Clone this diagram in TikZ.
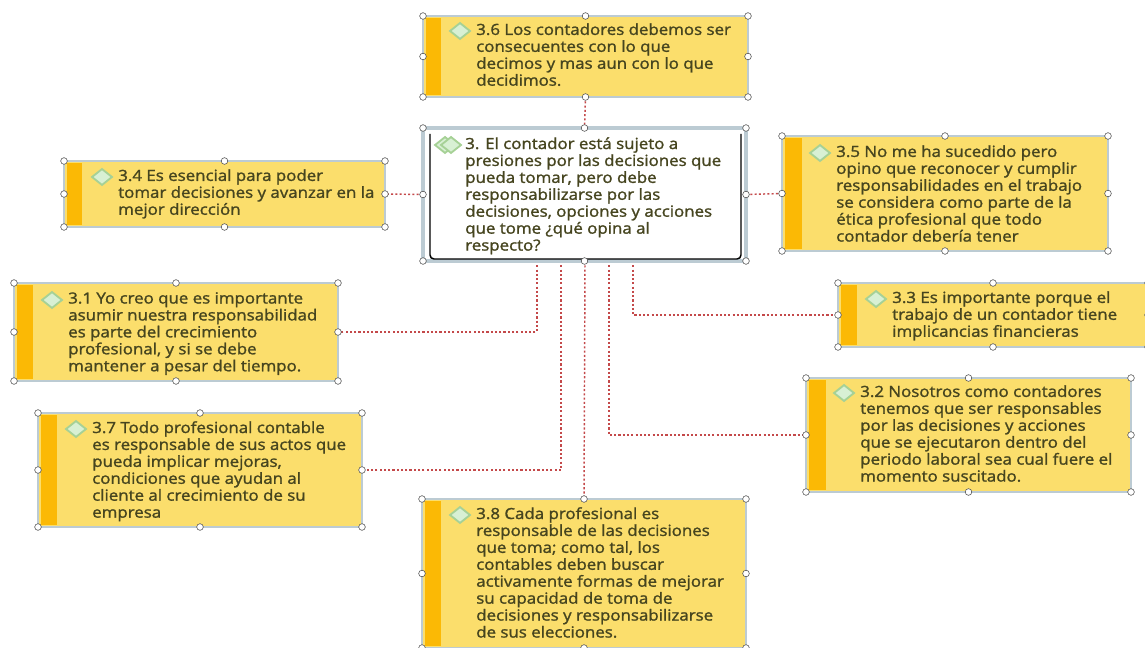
\documentclass[tikz,border=0pt]{standalone}
\usepackage{fontspec}
\setmainfont{Open Sans}[FakeBold=1.4,FakeStretch=1.1]
\pgfdeclarelayer{under}
\pgfsetlayers{under,main}
\definecolor{boxfill}{HTML}{FBDE6C}
\definecolor{barfill}{HTML}{FBB905}
\definecolor{boxedge}{HTML}{BCCBD3}
\definecolor{txt}{HTML}{46451F}
\definecolor{conn}{HTML}{C4494A}
\definecolor{diafill}{HTML}{D8F0D4}
\definecolor{diaedge}{HTML}{A6D196}
\usetikzlibrary{shapes.geometric}
\tikzset{
  boxbody/.style={draw=boxedge,line width=2pt,fill=boxfill,inner sep=0pt,outer sep=0pt},
  handle/.style={circle,draw=black!70,fill=white,line width=.4pt,inner sep=0pt,minimum size=5pt},
  boxtext/.style={anchor=north west,align=left,inner sep=0pt,text=txt,font=\fontsize{11.5pt}{12.7pt}\selectfont},
  diamark/.style={diamond,draw=diaedge,fill=diafill,line width=1.4pt,inner sep=0pt,minimum width=15.5pt,minimum height=12.5pt},
  link/.style={draw=conn,line width=1.1pt,dash pattern=on 1.6pt off 1.6pt}
}
\newcommand{\handles}[1]{%
  \foreach \a in {north west,north,north east,west,east,south west,south,south east}
    \node[handle] (#1-\a) at (#1.\a) {};}
\newcommand{\ybox}[9]{%
  % #1 name #2 x1 #3 y1 #4 x2 #5 y2 #6 text x #7 text y #8 bar-right x #9 text
  \node[boxbody,minimum width={(#4-#2)*0.75pt},minimum height={(#5-#3)*0.75pt},anchor=north west] (#1) at (#2,#3) {};
  \fill[barfill] (#2+3,#3+2) rectangle (#8,#5-2);
  \node[diamark] (#1-d) at (#6-16,#7+8) {};
  \node[boxtext] (#1-t) at (#6,#7) {#9};
  \handles{#1}}
\begin{document}
\begin{tikzpicture}[x=0.75pt,y=-0.75pt]
\useasboundingbox (0,0) rectangle (1145,648);
\begin{pgfonlayer}{under}
\fill[white] (0,0) rectangle (1145,648);
\end{pgfonlayer}
\ybox{b36}{423}{16}{748}{97}{476}{23}{441}{3.6 Los contadores debemos ser\\consecuentes con lo que\\decimos y mas aun con lo que\\decidimos.}
\ybox{b34}{64}{161}{385}{227}{118}{169}{82}{3.4 Es esencial para poder\\tomar decisiones y avanzar en la\\mejor dirección}
\ybox{b35}{782}{136}{1108}{251}{836}{145}{802}{3.5 No me ha sucedido pero\\opino que reconocer y cumplir\\responsabilidades en el trabajo\\se considera como parte de la\\ética profesional que todo\\contador debería tener}
\ybox{b31}{14}{283}{338}{381}{68}{292}{33}{3.1 Yo creo que es importante\\asumir nuestra responsabilidad\\es parte del crecimiento\\profesional, y si se debe\\mantener a pesar del tiempo.}
\ybox{b33}{838}{283}{1148}{347}{892}{291}{857}{3.3 Es importante porque el\\trabajo de un contador tiene\\implicancias financieras}
\ybox{b37}{38}{413}{362}{527}{92}{421}{57}{3.7  Todo profesional contable\\es responsable de sus actos que\\pueda implicar mejoras,\\condiciones que ayudan al\\cliente al crecimiento de su\\empresa}
\ybox{b32}{806}{378}{1131}{492}{860}{385}{826}{3.2 Nosotros como contadores\\tenemos que ser responsables\\por las decisiones y acciones\\que se ejecutaron dentro del\\periodo laboral sea cual fuere el\\momento suscitado.}
\ybox{b38}{422}{499}{746}{648}{476}{507}{441}{3.8 Cada profesional es\\responsable de las decisiones\\que toma; como tal, los\\contables deben buscar\\activamente formas de mejorar\\su capacidad de toma de\\decisiones y responsabilizarse\\de sus elecciones.}
% central box
\node[draw=boxedge,line width=2.6pt,fill=white,minimum width={323*0.75pt},minimum height={133*0.75pt},anchor=north west,inner sep=0pt,outer sep=0pt] (main) at (423,128) {};
\draw[black,line width=1.1pt,rounded corners=3pt] (430,134) -- (430,259) -- (741,259) -- (741,134);
\node[diamark] (main-d2) at (445,145) {};
\node[diamark] (main-d) at (451,145) {};
\node[boxtext] (main-t) at (465,137) {3. El contador está sujeto a\\presiones por las decisiones que\\pueda tomar, pero debe\\responsabilizarse por las\\decisiones, opciones y acciones\\que tome ¿qué opina al\\respecto?};
\handles{main}
% connectors
\coordinate (s1) at (537,261);
\coordinate (s2) at (561,261);
\coordinate (s3) at (585,261);
\coordinate (s4) at (609,261);
\coordinate (s5) at (633,261);
\begin{pgfonlayer}{under}
\draw[link] (b36.south) -- (main.north);
\draw[link] (main.west) -- (b34.east);
\draw[link] (main.east) -- (b35.west);
\draw[link] (s1) |- (b31.east);
\draw[link] (s2) |- (b37.east);
\draw[link] (s3) -- (b38.north);
\draw[link] (s4) |- (b32.west);
\draw[link] (s5) |- (b33.west);
\end{pgfonlayer}
\end{tikzpicture}
\end{document}
